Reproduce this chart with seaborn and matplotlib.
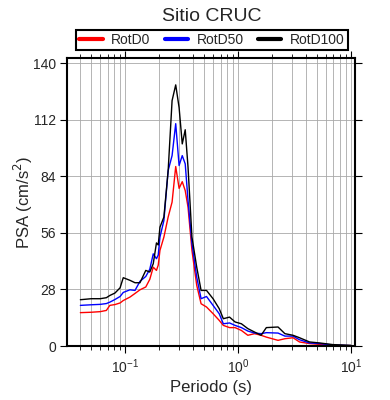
import numpy as np
import pandas as pd
import matplotlib
matplotlib.use('Agg')
import matplotlib.pyplot as plt
import seaborn as sns
from matplotlib.lines import Line2D
from matplotlib.ticker import LogLocator, FixedLocator

# Period (s) and spectral accelerations (cm/s^2)
periods = [0.04, 0.05, 0.06, 0.068, 0.073, 0.081, 0.09, 0.096, 0.11, 0.122,
           0.135, 0.152, 0.165, 0.177, 0.189, 0.196, 0.203, 0.22, 0.24, 0.26,
           0.28, 0.30, 0.32, 0.34, 0.36, 0.39, 0.43, 0.47, 0.525, 0.60,
           0.68, 0.74, 0.84, 0.94, 1.07, 1.22, 1.4, 1.6, 1.78, 2.26,
           2.6, 3.07, 3.5, 4.3, 5.3, 6.9, 10.0]

rotd0 = [16.5, 16.7, 17.0, 17.6, 20.1, 20.5, 21.3, 22.5, 24.2, 26.0,
         27.8, 29.2, 33.0, 39.0, 37.4, 40.0, 47.3, 53.9, 63.8, 71.2,
         88.8, 78.0, 81.3, 76.9, 68.7, 47.3, 30.0, 20.9, 19.3, 16.0,
         12.7, 10.2, 9.1, 9.1, 7.7, 5.3, 6.1, 5.3, 4.4, 2.8,
         3.6, 4.1, 2.0, 1.2, 0.8, 0.3, 0.2]

rotd50 = [20.1, 20.4, 20.6, 21.0, 21.7, 23.0, 24.5, 26.5, 27.8, 27.5,
          32.0, 34.4, 38.0, 45.6, 43.2, 45.0, 53.9, 62.1, 86.8, 94.2,
          110.0, 89.3, 94.2, 90.1, 72.0, 50.6, 34.1, 23.4, 24.5, 20.1,
          16.0, 11.0, 11.4, 10.2, 9.1, 7.4, 6.4, 6.1, 6.6, 6.4,
          4.9, 4.9, 3.1, 1.5, 1.2, 0.5, 0.2]

rotd100 = [22.9, 23.4, 23.4, 23.9, 25.0, 26.2, 28.8, 33.8, 32.5, 31.3,
           31.3, 37.4, 36.6, 40.7, 51.0, 50.0, 58.8, 63.8, 86.8, 121.4,
           129.2, 118.0, 100.0, 107.0, 88.5, 53.9, 39.0, 27.5, 27.5, 23.4,
           18.5, 13.5, 14.3, 11.9, 11.0, 8.6, 6.9, 5.3, 9.1, 9.4,
           6.1, 5.3, 4.1, 2.0, 1.5, 0.7, 0.3]

series_names = ['RotD0', 'RotD50', 'RotD100']
series_colors = ['#ff0000', '#0000ff', '#000000']

df = pd.DataFrame({
    'Periodo': periods * 3,
    'PSA': rotd0 + rotd50 + rotd100,
    'comp': [n for n in series_names for _ in periods],
})

sns.set_style('ticks')
plt.rcParams['font.family'] = ['Liberation Sans', 'DejaVu Sans']

fig = plt.figure(figsize=(3.9, 4.0), dpi=100)
ax = fig.add_axes([0.172, 0.135, 0.738, 0.72])

sns.lineplot(data=df, x='Periodo', y='PSA', hue='comp', hue_order=series_names,
             palette=series_colors, linewidth=1.0, legend=False, ax=ax,
             estimator=None, sort=False)

ax.set_xscale('log')
ax.set_xlim(0.0305, 10.85)
ax.set_ylim(0, 142.5)

ax.xaxis.set_major_locator(LogLocator(base=10, numticks=10))
ax.xaxis.set_minor_locator(LogLocator(base=10, subs=np.arange(2, 10), numticks=20))
ax.yaxis.set_major_locator(FixedLocator([0, 28, 56, 84, 112, 140]))

ax.grid(True, which='both', axis='x', color='#a8a8a8', linewidth=0.6)
ax.grid(True, which='major', axis='y', color='#a8a8a8', linewidth=0.6)
ax.set_axisbelow(True)

ax.tick_params(which='both', direction='out', top=True, right=True,
               labeltop=False, labelright=False, color='black')
ax.tick_params(which='major', length=5, width=0.8, labelsize=10, pad=3)
ax.tick_params(which='minor', length=3, width=0.6)
for s in ax.spines.values():
    s.set_linewidth(1.5)
    s.set_color('black')

ax.set_xlabel('Periodo (s)', fontsize=12, labelpad=3)
ax.set_ylabel('PSA (cm/s$^2$)', fontsize=12)
ax.yaxis.set_label_coords(-0.11, 0.5)
fig.text(0.543, 0.958, 'Sitio CRUC', ha='center', va='center', fontsize=14)

handles = [Line2D([0], [0], color=c, linewidth=3) for c in series_colors]
leg = fig.legend(handles, series_names, loc='center', bbox_to_anchor=(0.543, 0.9),
                 ncol=3, frameon=True, fancybox=False, edgecolor='black',
                 framealpha=1, fontsize=10, handlelength=1.7, columnspacing=1.0,
                 handletextpad=0.6, borderpad=0.25, borderaxespad=0)
leg.get_frame().set_linewidth(1.5)

fig.savefig('out.png', dpi=100)
